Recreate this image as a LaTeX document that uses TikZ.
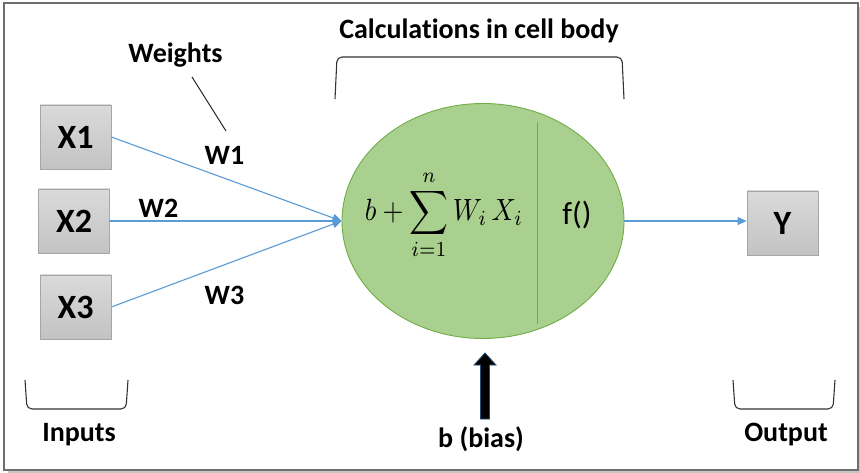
\documentclass[tikz,border=0pt]{standalone}
\usepackage[no-math]{fontspec}
\setmainfont{Carlito}[Ligatures=NoCommon]
\usepackage{graphicx}
\usetikzlibrary{arrows.meta,shapes.geometric}
\definecolor{boxtop}{HTML}{DADADA}
\definecolor{boxbot}{HTML}{C3C3C3}
\definecolor{boxline}{HTML}{A6A6A6}
\definecolor{cellfill}{HTML}{A9D08E}
\definecolor{cellline}{HTML}{70AD47}
\definecolor{wireblue}{HTML}{5B9BD5}
\definecolor{framegray}{HTML}{6E6E6E}
\definecolor{biasline}{HTML}{1F4E79}
\begin{document}
\begin{tikzpicture}[x=1pt,y=-1pt,
  inbox/.style={draw=boxline,line width=0.8pt,top color=boxtop,bottom color=boxbot,
    minimum width=71pt,minimum height=64pt,inner sep=0pt,
    font=\fontsize{34}{36}\selectfont\bfseries},
  lbl/.style={inner sep=0pt,anchor=base,font=\fontsize{28}{30}\selectfont\bfseries},
  wire/.style={draw=wireblue,line width=1.1pt,-{Triangle[length=9pt,width=8pt]}},
  brk/.style={draw=black!80,line width=1.1pt,rounded corners=5pt}
]
\useasboundingbox (0,0) rectangle (860,473);
% frame with shadow
\fill[gray!45] (8,7) rectangle (860,473);
\draw[framegray,line width=1.3pt,fill=white] (4,3) rectangle (858,470);

% inputs and output boxes
\node[inbox] (x1) at (75.5,137) {X1};
\node[inbox] (x2) at (74,221) {X2};
\node[inbox] (x3) at (75.5,307) {X3};
\node[inbox] (y) at (782.5,223) {Y};

% cell body
\node[ellipse,draw=cellline,fill=cellfill,line width=0.9pt,
  minimum width=282pt,minimum height=235pt,inner sep=0pt] (cell) at (483,221) {};
\coordinate (divtop) at (537,122);
\coordinate (divbot) at (537,324);
\draw[wireblue,line width=1pt] (divtop) -- (divbot);
\node[inner sep=0pt] (formula) at (444,215)
  {\resizebox*{158pt}{90pt}{$\displaystyle b+\sum_{i=1}^{n} W_i\,X_i$}};
\node[inner sep=0pt,anchor=base,font=\fontsize{32}{34}\selectfont] (f) at (577,225) {f()};

% connectors
\draw[wire] (x1.east) -- (cell.west);
\draw[wire] (x2.east) -- (cell.west);
\draw[wire] (x3.east) -- (cell.west);
\draw[wire] (cell.east) -- (cell.east -| y.west);

% weight labels
\node[lbl] (w1) at (224.5,165) {W1};
\node[lbl] (w2) at (158.5,218) {W2};
\node[lbl] (w3) at (224.5,305) {W3};
\node[lbl] (weights) at (175.5,63) {Weights};
\coordinate (wlA) at (192,77);
\coordinate (wlB) at (226,131);
\draw[black!85,line width=1pt] (wlA) -- (wlB);

% top bracket
\node[lbl] (calc) at (479,39) {Calculations in cell body};
\coordinate (tbl) at (335,99);
\coordinate (tbr) at (624,99);
\draw[brk] (tbl) -- (337,57) -- (622,57) -- (tbr);

% bottom brackets
\coordinate (ibl) at (25,380);
\coordinate (ibr) at (128,380);
\draw[brk] (ibl) -- (27,409) -- (126,409) -- (ibr);
\node[lbl] (inputs) at (79,441) {Inputs};
\coordinate (obl) at (733,380);
\coordinate (obr) at (835,380);
\draw[brk] (obl) -- (735,409) -- (833,409) -- (obr);
\node[lbl] (output) at (786,441) {Output};

% bias arrow
\node[lbl] (bias) at (481,447) {b (bias)};
\coordinate (tip) at (485,353);
\fill[black] (480.5,419) -- (480.5,365) -- (474,365) -- (tip) -- (496,365) -- (489.5,365) -- (489.5,419) -- cycle;
\draw[biasline,line width=0.8pt,line join=miter] (480.5,419) -- (480.5,365) -- (474,365) -- (tip) -- (496,365) -- (489.5,365) -- (489.5,419) -- cycle;
\end{tikzpicture}
\end{document}
